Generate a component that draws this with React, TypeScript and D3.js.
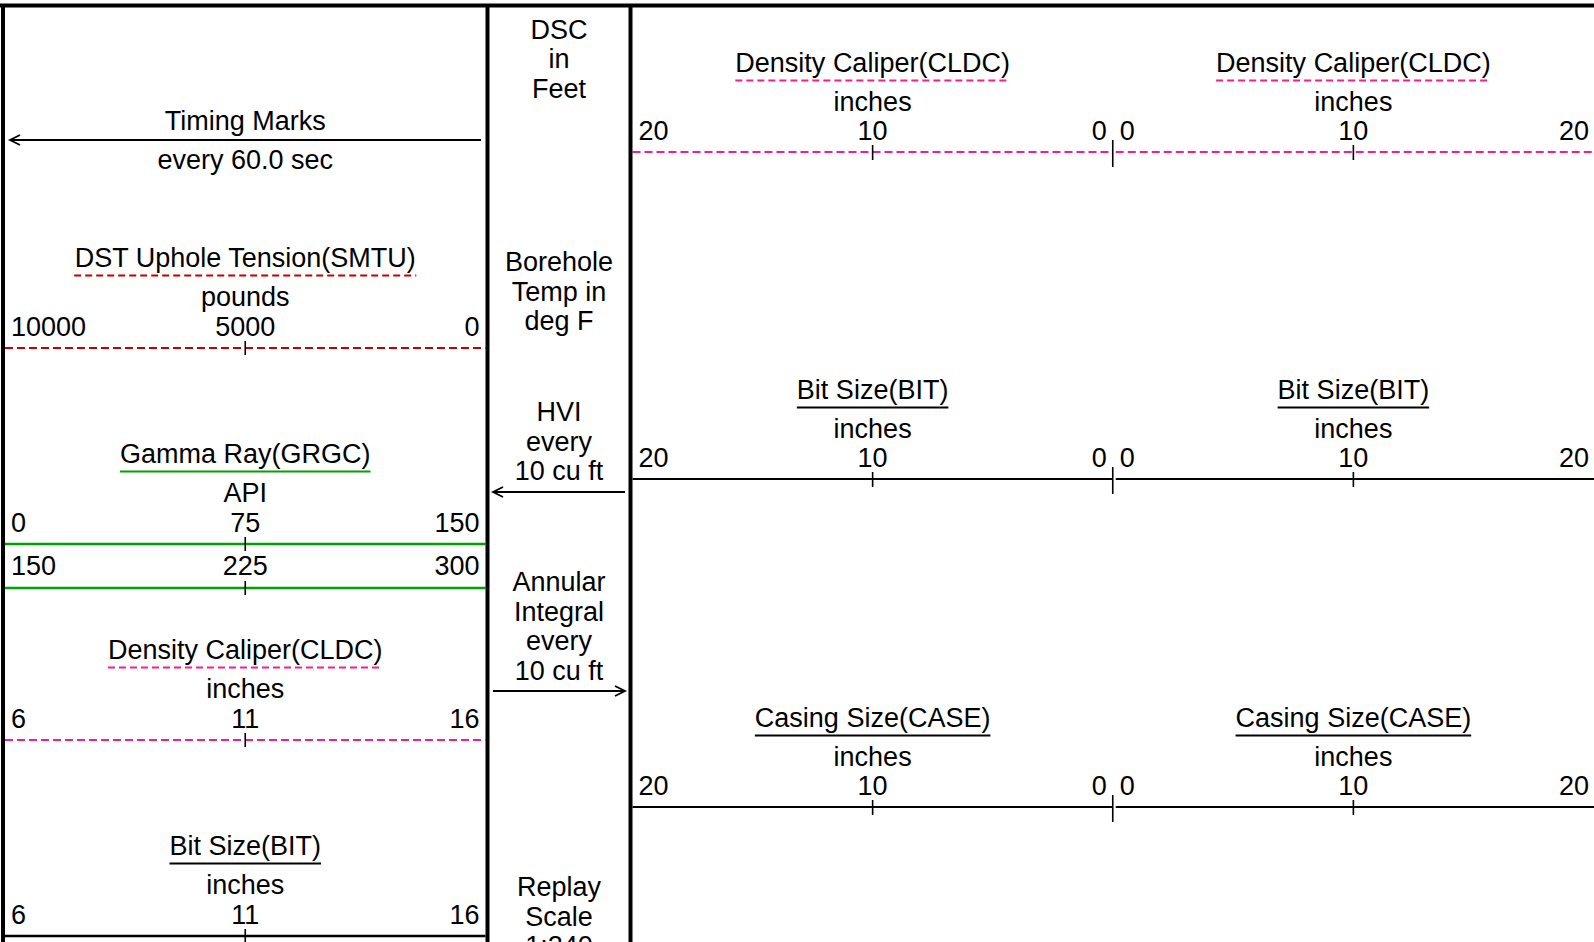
import React from 'react';
import * as d3 from 'd3';

// ---------------- data ----------------
const timingTitle = 'Timing Marks';
const timingSub = 'every 60.0 sec';

const leftCurveNames = ['DST Uphole Tension(SMTU)', 'Gamma Ray(GRGC)', 'Density Caliper(CLDC)', 'Bit Size(BIT)'];
const leftCurveUnits = ['pounds', 'API', 'inches', 'inches'];
const leftScaleMin = [10000, 0, 6, 6];
const leftScaleMax = [0, 150, 16, 16];
const leftTickValues = [[10000, 5000, 0], [0, 75, 150], [6, 11, 16], [6, 11, 16]];
const gammaWrapTicks = [150, 225, 300];

const depthColumnLabels = [
  ['DSC', 'in', 'Feet'],
  ['Borehole', 'Temp in', 'deg F'],
  ['HVI', 'every', '10 cu ft'],
  ['Annular', 'Integral', 'every', '10 cu ft'],
  ['Replay', 'Scale', '1:240'],
];

const rightCurveNames = ['Density Caliper(CLDC)', 'Bit Size(BIT)', 'Casing Size(CASE)'];
const rightCurveUnits = ['inches', 'inches', 'inches'];
const rightHalfTicks = [0, 10, 20];

// ---------------- layout / style ----------------
const W = 1594;
const H = 942;
const FONT = "'Liberation Sans', Arial, sans-serif";
const FS = 27;

const X_LEFT = 3;
const X_DIV1 = 487.5;
const X_DIV2 = 630.5;
const X_RIGHT = 1594;

const leftColors = ['#c40000', '#00a300', '#ff1a8c', '#000000'];
const leftDashed = [true, false, true, false];
const leftTitleY = [267, 463, 659, 855];
const gammaWrapLabelY = 575;
const gammaWrapLineY = 588;

const midBlockY = [38.6, 271, 421, 591, 896];
const MID_LH = 29.7;
const hviArrowY = 492;
const annArrowY = 691;

const rightColors = ['#ff1a8c', '#000000', '#000000'];
const rightDashed = [true, false, false];
const rightTitleY = [72, 399, 727];

const canvas = typeof document !== 'undefined' ? document.createElement('canvas') : null;
function textWidth(s: string) {
  if (!canvas) return s.length * FS * 0.5;
  const ctx = canvas.getContext('2d')!;
  ctx.font = `${FS}px 'Liberation Sans', Arial, sans-serif`;
  return ctx.measureText(s).width;
}

type HeaderProps = {
  name: string;
  unit: string;
  color: string;
  dashed: boolean;
  titleY: number;
  cx: number;
};

function Title({ name, unit, color, dashed, titleY, cx }: HeaderProps) {
  const w = textWidth(name);
  return (
    <g>
      <text x={cx} y={titleY} textAnchor="middle">{name}</text>
      <line
        x1={cx - w / 2}
        x2={cx + w / 2}
        y1={titleY + 8.5}
        y2={titleY + 8.5}
        stroke={color}
        strokeWidth={2}
        strokeDasharray={dashed ? '7,4' : undefined}
      />
      <text x={cx} y={titleY + 39} textAnchor="middle">{unit}</text>
    </g>
  );
}

function ScaleRow({
  scale, ticks, labelY, lineY, color, dashed, x0, x1, anchors, tickIdx, lineWidth,
}: {
  scale: d3.ScaleLinear<number, number>;
  ticks: number[];
  labelY: number;
  lineY: number;
  color: string;
  dashed: boolean;
  x0: number;
  x1: number;
  anchors: string[];
  tickIdx: number[];
  lineWidth: number;
}) {
  const pad = 6;
  return (
    <g>
      {ticks.map((t, i) => {
        const a = anchors[i];
        const x = scale(t) + (a === 'start' ? pad : a === 'end' ? -pad : 0);
        return (
          <text key={i} x={x} y={labelY} textAnchor={a as any}>{String(t)}</text>
        );
      })}
      <line x1={x0} x2={x1} y1={lineY} y2={lineY} stroke={color} strokeWidth={lineWidth}
        strokeDasharray={dashed ? '8,4' : undefined} />
      {tickIdx.map((i) => (
        <line key={'t' + i} x1={scale(ticks[i])} x2={scale(ticks[i])} y1={lineY - 7} y2={lineY + 7}
          stroke="#000" strokeWidth={1.6} />
      ))}
    </g>
  );
}

export default function App() {
  const leftX0 = X_LEFT + 2;
  const leftX1 = X_DIV1 - 2;
  const leftCx = (leftX0 + leftX1) / 2;
  const midCx = (X_DIV1 + X_DIV2) / 2;
  const rX0 = X_DIV2 + 2;
  const rCenter = (rX0 + X_RIGHT) / 2 - 0.5;
  const halfL = d3.scaleLinear().domain([20, 0]).range([rX0, rCenter]);
  const halfR = d3.scaleLinear().domain([0, 20]).range([rCenter, X_RIGHT]);

  return (
    <svg
      width={W}
      height={H}
      style={{ position: 'fixed', left: 0, top: 0, background: '#fff' }}
      fontFamily={FONT}
      fontSize={FS}
      fill="#000"
    >
      <rect x={0} y={0} width={W} height={H} fill="#fff" />

      {/* Left track */}
      <text x={leftCx} y={130} textAnchor="middle">{timingTitle}</text>
      <line x1={10} x2={481} y1={140} y2={140} stroke="#000" strokeWidth={1.8} />
      <polyline points="20,135 10,140 20,145" fill="none" stroke="#000" strokeWidth={1.8} />
      <text x={leftCx} y={169} textAnchor="middle">{timingSub}</text>

      {leftCurveNames.map((name, i) => {
        const s = d3.scaleLinear().domain([leftScaleMin[i], leftScaleMax[i]]).range([leftX0, leftX1]);
        const ty = leftTitleY[i];
        return (
          <g key={name + i}>
            <Title name={name} unit={leftCurveUnits[i]} color={leftColors[i]} dashed={leftDashed[i]}
              titleY={ty} cx={leftCx} />
            <ScaleRow scale={s} ticks={leftTickValues[i]} labelY={ty + 69} lineY={ty + 81}
              color={leftColors[i]} dashed={leftDashed[i]} x0={leftX0} x1={leftX1}
              anchors={['start', 'middle', 'end']} tickIdx={[1]} lineWidth={leftDashed[i] ? 1.8 : 2.4} />
            {i === 1 && (
              <ScaleRow
                scale={d3.scaleLinear().domain([gammaWrapTicks[0], gammaWrapTicks[2]]).range([leftX0, leftX1])}
                ticks={gammaWrapTicks} labelY={gammaWrapLabelY} lineY={gammaWrapLineY}
                color={leftColors[i]} dashed={false} x0={leftX0} x1={leftX1}
                anchors={['start', 'middle', 'end']} tickIdx={[1]} lineWidth={2.4} />
            )}
          </g>
        );
      })}

      {/* Middle (depth) track */}
      {depthColumnLabels.map((lines, b) => (
        <g key={'m' + b}>
          {lines.map((l, j) => (
            <text key={j} x={midCx} y={midBlockY[b] + j * MID_LH} textAnchor="middle">{l}</text>
          ))}
        </g>
      ))}
      <line x1={493} x2={625} y1={hviArrowY} y2={hviArrowY} stroke="#000" strokeWidth={1.8} />
      <polyline points={`503,${hviArrowY - 5} 493,${hviArrowY} 503,${hviArrowY + 5}`} fill="none" stroke="#000" strokeWidth={1.8} />
      <line x1={493} x2={625} y1={annArrowY} y2={annArrowY} stroke="#000" strokeWidth={1.8} />
      <polyline points={`615,${annArrowY - 5} 625,${annArrowY} 615,${annArrowY + 5}`} fill="none" stroke="#000" strokeWidth={1.8} />

      {/* Right track */}
      {rightCurveNames.map((name, i) => {
        const ty = rightTitleY[i];
        const lineY = ty + 80;
        const labelY = ty + 68;
        const dash = rightDashed[i] ? '8,4' : undefined;
        return (
          <g key={'r' + i}>
            {[halfL, halfR].map((s, h) => {
              const cx = s(10);
              return (
                <Title key={h} name={name} unit={rightCurveUnits[i]} color={rightColors[i]}
                  dashed={rightDashed[i]} titleY={ty} cx={cx} />
              );
            })}
            <text x={halfL(20) + 6} y={labelY} textAnchor="start">{String(rightHalfTicks[2])}</text>
            <text x={halfL(10)} y={labelY} textAnchor="middle">{String(rightHalfTicks[1])}</text>
            <text x={halfL(0) - 6} y={labelY} textAnchor="end">{String(rightHalfTicks[0])}</text>
            <text x={halfR(0) + 7} y={labelY} textAnchor="start">{String(rightHalfTicks[0])}</text>
            <text x={halfR(10)} y={labelY} textAnchor="middle">{String(rightHalfTicks[1])}</text>
            <text x={halfR(20) - 5} y={labelY} textAnchor="end">{String(rightHalfTicks[2])}</text>
            <line x1={halfL(20)} x2={halfL(0)} y1={lineY} y2={lineY} stroke={rightColors[i]}
              strokeWidth={1.8} strokeDasharray={dash} />
            <line x1={halfR(0) + 3} x2={halfR(20)} y1={lineY} y2={lineY} stroke={rightColors[i]}
              strokeWidth={1.8} strokeDasharray={dash} />
            <line x1={halfL(10)} x2={halfL(10)} y1={lineY - 7} y2={lineY + 8} stroke="#000" strokeWidth={1.6} />
            <line x1={halfR(10)} x2={halfR(10)} y1={lineY - 7} y2={lineY + 8} stroke="#000" strokeWidth={1.6} />
            <line x1={halfL(0)} x2={halfL(0)} y1={lineY - 12} y2={lineY + 15} stroke="#000" strokeWidth={1.6} />
          </g>
        );
      })}

      {/* Frame */}
      <line x1={0} x2={W} y1={5.5} y2={5.5} stroke="#000" strokeWidth={4} />
      <line x1={X_LEFT} x2={X_LEFT} y1={4} y2={H} stroke="#000" strokeWidth={4} />
      <line x1={X_DIV1} x2={X_DIV1} y1={4} y2={H} stroke="#000" strokeWidth={4} />
      <line x1={X_DIV2} x2={X_DIV2} y1={4} y2={H} stroke="#000" strokeWidth={4} />
    </svg>
  );
}
